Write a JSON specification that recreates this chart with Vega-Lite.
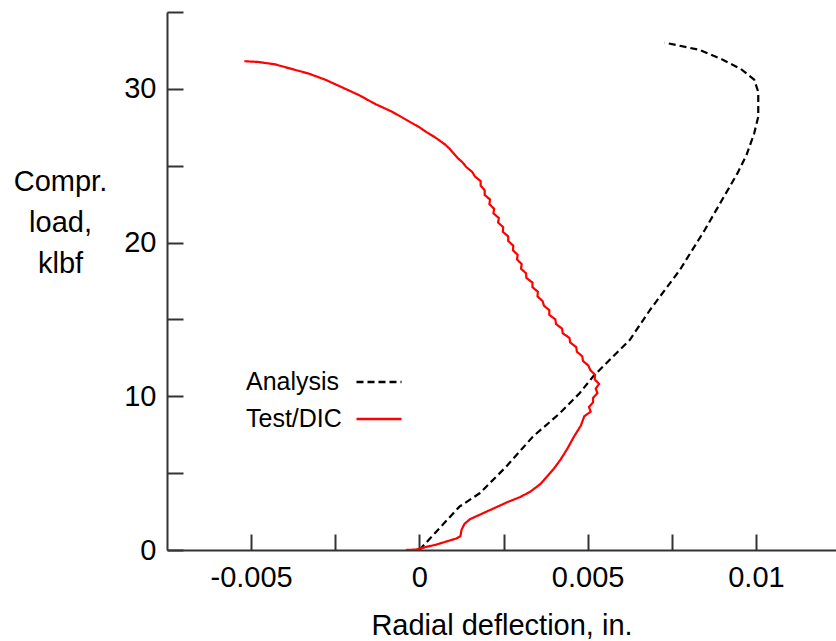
{
  "$schema": "https://vega.github.io/schema/vega-lite/v6.json",
  "width": 669,
  "height": 538,
  "autosize": {"type": "none"},
  "padding": {"left": 167, "top": 12, "right": 0, "bottom": 91},
  "background": "white",
  "config": {
    "view": {"stroke": null},
    "font": "Liberation Sans",
    "axis": {
      "grid": false,
      "domainColor": "#333333",
      "domainWidth": 2,
      "tickColor": "#333333",
      "tickWidth": 2,
      "tickSize": -16,
      "labelFont": "Liberation Sans",
      "labelFontSize": 29,
      "labelColor": "black",
      "titleFont": "Liberation Sans",
      "titleFontSize": 29,
      "titleFontWeight": "normal",
      "titleColor": "black"
    },
    "legend": {
      "orient": "none",
      "legendX": 188,
      "legendY": 346,
      "padding": 0,
      "symbolType": "stroke",
      "symbolSize": 2025,
      "symbolStrokeWidth": 2.3,
      "labelFont": "Liberation Sans",
      "labelFontSize": 25,
      "labelColor": "black",
      "labelAlign": "left",
      "labelOffset": -157,
      "rowPadding": -6
    }
  },
  "data": {
    "values": [
      {"series": "Analysis", "i": 0, "x": 0, "y": 0},
      {"series": "Analysis", "i": 1, "x": 0.00119, "y": 2.82},
      {"series": "Analysis", "i": 2, "x": 0.00179, "y": 3.69},
      {"series": "Analysis", "i": 3, "x": 0.00258, "y": 5.42},
      {"series": "Analysis", "i": 4, "x": 0.00337, "y": 7.37},
      {"series": "Analysis", "i": 5, "x": 0.00417, "y": 8.89},
      {"series": "Analysis", "i": 6, "x": 0.00476, "y": 10.2},
      {"series": "Analysis", "i": 7, "x": 0.00516, "y": 11.28},
      {"series": "Analysis", "i": 8, "x": 0.00575, "y": 12.58},
      {"series": "Analysis", "i": 9, "x": 0.00625, "y": 13.66},
      {"series": "Analysis", "i": 10, "x": 0.00685, "y": 15.61},
      {"series": "Analysis", "i": 11, "x": 0.00774, "y": 18.22},
      {"series": "Analysis", "i": 12, "x": 0.00848, "y": 20.82},
      {"series": "Analysis", "i": 13, "x": 0.00908, "y": 23.1},
      {"series": "Analysis", "i": 14, "x": 0.00945, "y": 24.5},
      {"series": "Analysis", "i": 15, "x": 0.00972, "y": 25.7},
      {"series": "Analysis", "i": 16, "x": 0.00995, "y": 27.11},
      {"series": "Analysis", "i": 17, "x": 0.01007, "y": 28.2},
      {"series": "Analysis", "i": 18, "x": 0.01007, "y": 29.8},
      {"series": "Analysis", "i": 19, "x": 0.00995, "y": 30.6},
      {"series": "Analysis", "i": 20, "x": 0.00955, "y": 31.3},
      {"series": "Analysis", "i": 21, "x": 0.00903, "y": 31.88},
      {"series": "Analysis", "i": 22, "x": 0.00833, "y": 32.53},
      {"series": "Analysis", "i": 23, "x": 0.00729, "y": 33.01},

      {"series": "Test/DIC", "i": 0, "x": -0.0004, "y": 0},
      {"series": "Test/DIC", "i": 1, "x": -0.0001, "y": 0.03},
      {"series": "Test/DIC", "i": 2, "x": 0.0002, "y": 0.2},
      {"series": "Test/DIC", "i": 3, "x": 0.0005, "y": 0.35},
      {"series": "Test/DIC", "i": 4, "x": 0.0008, "y": 0.55},
      {"series": "Test/DIC", "i": 5, "x": 0.0011, "y": 0.75},
      {"series": "Test/DIC", "i": 6, "x": 0.00122, "y": 0.9},
      {"series": "Test/DIC", "i": 7, "x": 0.00125, "y": 1.3},
      {"series": "Test/DIC", "i": 8, "x": 0.00134, "y": 1.7},
      {"series": "Test/DIC", "i": 9, "x": 0.0015, "y": 2.0},
      {"series": "Test/DIC", "i": 10, "x": 0.0018, "y": 2.3},
      {"series": "Test/DIC", "i": 11, "x": 0.0022, "y": 2.7},
      {"series": "Test/DIC", "i": 12, "x": 0.0026, "y": 3.1},
      {"series": "Test/DIC", "i": 13, "x": 0.0030, "y": 3.45},
      {"series": "Test/DIC", "i": 14, "x": 0.0033, "y": 3.8},
      {"series": "Test/DIC", "i": 15, "x": 0.0036, "y": 4.3},
      {"series": "Test/DIC", "i": 16, "x": 0.0038, "y": 4.8},
      {"series": "Test/DIC", "i": 17, "x": 0.0040, "y": 5.3},
      {"series": "Test/DIC", "i": 18, "x": 0.0042, "y": 5.9},
      {"series": "Test/DIC", "i": 19, "x": 0.0044, "y": 6.6},
      {"series": "Test/DIC", "i": 20, "x": 0.0046, "y": 7.4},
      {"series": "Test/DIC", "i": 21, "x": 0.0048, "y": 8.1},
      {"series": "Test/DIC", "i": 22, "x": 0.0049, "y": 8.7},
      {"series": "Test/DIC", "i": 23, "x": 0.00509, "y": 9.0},
      {"series": "Test/DIC", "i": 24, "x": 0.00504, "y": 9.3},
      {"series": "Test/DIC", "i": 25, "x": 0.00516, "y": 9.6},
      {"series": "Test/DIC", "i": 26, "x": 0.00516, "y": 9.9},
      {"series": "Test/DIC", "i": 27, "x": 0.00529, "y": 10.2},
      {"series": "Test/DIC", "i": 28, "x": 0.00524, "y": 10.5},
      {"series": "Test/DIC", "i": 29, "x": 0.00534, "y": 10.8},
      {"series": "Test/DIC", "i": 30, "x": 0.00521, "y": 11.1},
      {"series": "Test/DIC", "i": 31, "x": 0.00522, "y": 11.4},
      {"series": "Test/DIC", "i": 32, "x": 0.00508, "y": 11.7},
      {"series": "Test/DIC", "i": 33, "x": 0.00502, "y": 12.0},
      {"series": "Test/DIC", "i": 34, "x": 0.00486, "y": 12.3},
      {"series": "Test/DIC", "i": 35, "x": 0.00484, "y": 12.6},
      {"series": "Test/DIC", "i": 36, "x": 0.00468, "y": 12.9},
      {"series": "Test/DIC", "i": 37, "x": 0.00466, "y": 13.2},
      {"series": "Test/DIC", "i": 38, "x": 0.00448, "y": 13.5},
      {"series": "Test/DIC", "i": 39, "x": 0.00446, "y": 13.8},
      {"series": "Test/DIC", "i": 40, "x": 0.00426, "y": 14.1},
      {"series": "Test/DIC", "i": 41, "x": 0.00424, "y": 14.4},
      {"series": "Test/DIC", "i": 42, "x": 0.00406, "y": 14.7},
      {"series": "Test/DIC", "i": 43, "x": 0.00404, "y": 15.0},
      {"series": "Test/DIC", "i": 44, "x": 0.00386, "y": 15.3},
      {"series": "Test/DIC", "i": 45, "x": 0.00386, "y": 15.6},
      {"series": "Test/DIC", "i": 46, "x": 0.0037, "y": 15.9},
      {"series": "Test/DIC", "i": 47, "x": 0.00366, "y": 16.2},
      {"series": "Test/DIC", "i": 48, "x": 0.00351, "y": 16.5},
      {"series": "Test/DIC", "i": 49, "x": 0.00352, "y": 16.8},
      {"series": "Test/DIC", "i": 50, "x": 0.00336, "y": 17.1},
      {"series": "Test/DIC", "i": 51, "x": 0.00336, "y": 17.4},
      {"series": "Test/DIC", "i": 52, "x": 0.00318, "y": 17.7},
      {"series": "Test/DIC", "i": 53, "x": 0.00317, "y": 18.0},
      {"series": "Test/DIC", "i": 54, "x": 0.00302, "y": 18.3},
      {"series": "Test/DIC", "i": 55, "x": 0.00304, "y": 18.6},
      {"series": "Test/DIC", "i": 56, "x": 0.0029, "y": 18.9},
      {"series": "Test/DIC", "i": 57, "x": 0.00292, "y": 19.2},
      {"series": "Test/DIC", "i": 58, "x": 0.00278, "y": 19.5},
      {"series": "Test/DIC", "i": 59, "x": 0.00279, "y": 19.8},
      {"series": "Test/DIC", "i": 60, "x": 0.00264, "y": 20.1},
      {"series": "Test/DIC", "i": 61, "x": 0.00264, "y": 20.4},
      {"series": "Test/DIC", "i": 62, "x": 0.00248, "y": 20.7},
      {"series": "Test/DIC", "i": 63, "x": 0.00249, "y": 21.0},
      {"series": "Test/DIC", "i": 64, "x": 0.00234, "y": 21.3},
      {"series": "Test/DIC", "i": 65, "x": 0.00236, "y": 21.6},
      {"series": "Test/DIC", "i": 66, "x": 0.0022, "y": 21.9},
      {"series": "Test/DIC", "i": 67, "x": 0.00222, "y": 22.2},
      {"series": "Test/DIC", "i": 68, "x": 0.00208, "y": 22.5},
      {"series": "Test/DIC", "i": 69, "x": 0.0021, "y": 22.8},
      {"series": "Test/DIC", "i": 70, "x": 0.00194, "y": 23.1},
      {"series": "Test/DIC", "i": 71, "x": 0.00194, "y": 23.4},
      {"series": "Test/DIC", "i": 72, "x": 0.00182, "y": 23.7},
      {"series": "Test/DIC", "i": 73, "x": 0.00182, "y": 24.0},
      {"series": "Test/DIC", "i": 74, "x": 0.00165, "y": 24.3},
      {"series": "Test/DIC", "i": 75, "x": 0.00157, "y": 24.6},
      {"series": "Test/DIC", "i": 76, "x": 0.0014, "y": 24.9},
      {"series": "Test/DIC", "i": 77, "x": 0.00129, "y": 25.2},
      {"series": "Test/DIC", "i": 78, "x": 0.00114, "y": 25.5},
      {"series": "Test/DIC", "i": 79, "x": 0.00102, "y": 25.8},
      {"series": "Test/DIC", "i": 80, "x": 0.0009, "y": 26.1},
      {"series": "Test/DIC", "i": 81, "x": 0.00075, "y": 26.4},
      {"series": "Test/DIC", "i": 82, "x": 0.0005, "y": 26.8},
      {"series": "Test/DIC", "i": 83, "x": 0.0002, "y": 27.2},
      {"series": "Test/DIC", "i": 84, "x": 0.0, "y": 27.5},
      {"series": "Test/DIC", "i": 85, "x": -0.0004, "y": 28.0},
      {"series": "Test/DIC", "i": 86, "x": -0.0008, "y": 28.5},
      {"series": "Test/DIC", "i": 87, "x": -0.0013, "y": 29.0},
      {"series": "Test/DIC", "i": 88, "x": -0.0018, "y": 29.6},
      {"series": "Test/DIC", "i": 89, "x": -0.0023, "y": 30.1},
      {"series": "Test/DIC", "i": 90, "x": -0.0028, "y": 30.6},
      {"series": "Test/DIC", "i": 91, "x": -0.0033, "y": 31.0},
      {"series": "Test/DIC", "i": 92, "x": -0.0038, "y": 31.3},
      {"series": "Test/DIC", "i": 93, "x": -0.0043, "y": 31.6},
      {"series": "Test/DIC", "i": 94, "x": -0.0048, "y": 31.75},
      {"series": "Test/DIC", "i": 95, "x": -0.0052, "y": 31.8}
    ]
  },
  "mark": {"type": "line", "strokeWidth": 2.2, "clip": true},
  "encoding": {
    "x": {
      "field": "x",
      "type": "quantitative",
      "scale": {"domain": [-0.0075, 0.01238], "nice": false, "zero": false},
      "axis": {
        "title": "Radial deflection, in.",
        "values": [-0.005, -0.0025, 0, 0.0025, 0.005, 0.0075, 0.01],
        "labelExpr": "datum.value == -0.005 ? '-0.005' : datum.value == 0 ? '0' : datum.value == 0.005 ? '0.005' : datum.value == 0.01 ? '0.01' : ''",
        "labelPadding": 29,
        "titlePadding": 19
      }
    },
    "y": {
      "field": "y",
      "type": "quantitative",
      "scale": {"domain": [0, 35], "nice": false},
      "axis": {
        "title": ["Compr.", "load,", "klbf"],
        "values": [0, 5, 10, 15, 20, 25, 30, 35],
        "labelExpr": "datum.value % 10 == 0 ? datum.value : ''",
        "labelPadding": 27,
        "titleAngle": 0,
        "titleAlign": "center",
        "titleBaseline": "middle",
        "titleX": -107,
        "titleY": 169,
        "titleLineHeight": 41
      }
    },
    "order": {"field": "i", "type": "quantitative"},
    "color": {
      "field": "series",
      "type": "nominal",
      "scale": {"domain": ["Analysis", "Test/DIC"], "range": ["black", "#ff0000"]},
      "legend": {"title": null}
    },
    "strokeDash": {
      "field": "series",
      "type": "nominal",
      "scale": {"domain": ["Analysis", "Test/DIC"], "range": [[7, 4], [1, 0]]},
      "legend": {"title": null}
    }
  }
}
